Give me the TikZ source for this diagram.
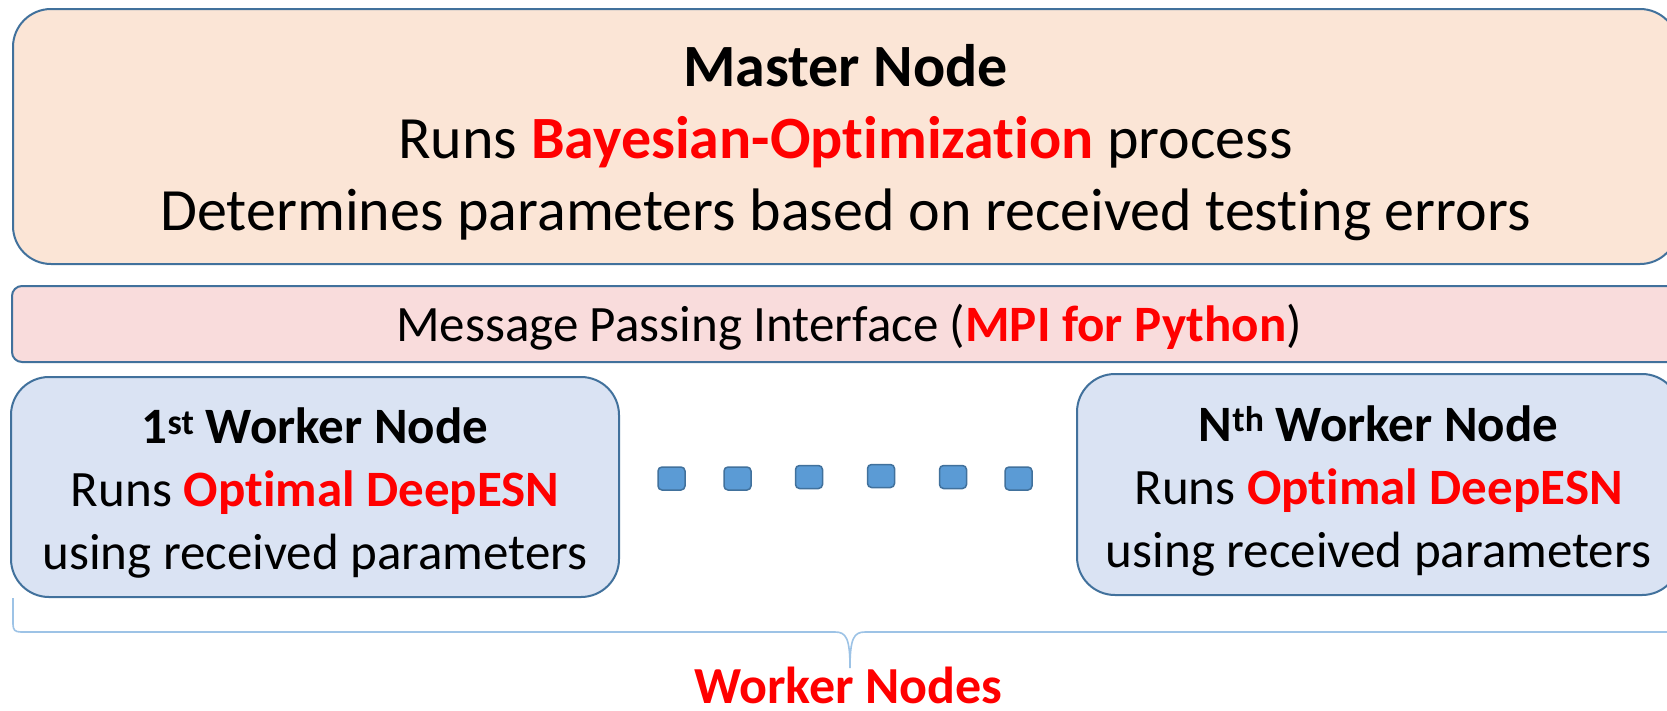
\documentclass[tikz,border=0pt]{standalone}
\usepackage{fontspec}
\setmainfont{Carlito}[Ligatures=NoCommon]
\definecolor{bordercol}{HTML}{41719C}
\definecolor{masterfill}{HTML}{FBE5D6}
\definecolor{mpifill}{HTML}{F9DCDC}
\definecolor{workerfill}{HTML}{DAE3F3}
\definecolor{dotfill}{HTML}{5B9BD5}
\definecolor{bracecol}{HTML}{9DC3E6}
\definecolor{hl}{HTML}{FF0000}
\tikzset{
  box/.style={draw=bordercol, line width=2pt, rounded corners=38pt, inner sep=0pt},
  txt/.style={align=center, inner sep=0pt},
  dotbox/.style={draw=bordercol, fill=dotfill, line width=1.5pt, rounded corners=4pt, minimum width=27pt, minimum height=23pt, inner sep=0pt},
  bracestyle/.style={draw=bracecol, line width=1.6pt},
  mfont/.style={font=\fontsize{60}{72}\selectfont},
  wfont/.style={font=\fontsize{51}{63}\selectfont},
}
\begin{document}
\begin{tikzpicture}[x=1pt,y=-1pt]
\clip (0,0) rectangle (1667,710);
\fill[white] (0,0) rectangle (1667,710);
% master
\node[box, fill=masterfill, minimum width=1665pt, minimum height=255pt] (master) at (845.5,136.5) {};
\node[txt, mfont] (mastertxt) at ([yshift=-6pt]master.center)
  {\textbf{Master Node}\\Runs \textcolor{hl}{\textbf{Bayesian-Optimization}} process\\Determines parameters based on received testing errors};
% MPI
\node[box, rounded corners=10pt, fill=mpifill, minimum width=1674pt, minimum height=76pt] (mpi) at (849,324) {};
\node[txt, font=\fontsize{51}{60}\selectfont] (mpitxt) at ([yshift=-3pt]mpi.center)
  {Message Passing Interface (\textcolor{hl}{\textbf{MPI for Python}})};
% workers
\node[box, fill=workerfill, minimum width=608pt, minimum height=220pt] (w1) at (315,487) {};
\node[txt, wfont] (w1txt) at ([yshift=-6pt]w1.center)
  {\textbf{1\textsuperscript{st} Worker Node}\\Runs \textcolor{hl}{\textbf{Optimal DeepESN}}\\using received parameters};
\node[box, fill=workerfill, minimum width=603pt, minimum height=221pt] (wn) at (1378.5,484.5) {};
\node[txt, wfont] (wntxt) at ([yshift=-6pt]wn.center)
  {\textbf{N\textsuperscript{th} Worker Node}\\Runs \textcolor{hl}{\textbf{Optimal DeepESN}}\\using received parameters};
% dots
\node[dotbox] (d1) at (671.5,478.5) {};
\node[dotbox] (d2) at (737.5,478.5) {};
\node[dotbox] (d3) at (809,477) {};
\node[dotbox] (d4) at (881,476) {};
\node[dotbox] (d5) at (953,477) {};
\node[dotbox] (d6) at (1018.5,478.5) {};
% brace
\draw[bracestyle] (13,598) -- (13,624) .. controls (13,630) and (15,632) .. (21,632) -- (835,632)
  .. controls (846,632) and (850,638) .. (850,668)
  .. controls (850,638) and (854,632) .. (865,632) -- (1700,632);
\node[font=\bfseries\fontsize{52}{60}\selectfont, text=hl, anchor=base, inner sep=0pt, text depth=0pt] (wlabel) at (848.5,703) {Worker Nodes};
\end{tikzpicture}
\end{document}
